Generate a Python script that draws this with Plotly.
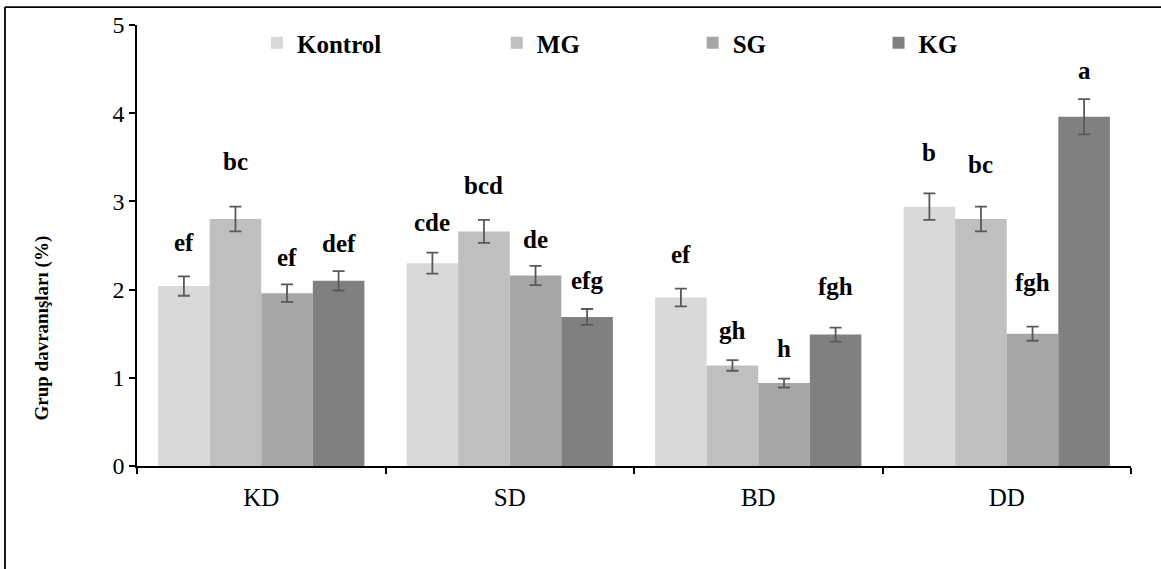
import plotly.graph_objects as go

categories = ["KD", "SD", "BD", "DD"]
series_names = ["Kontrol", "MG", "SG", "KG"]
colors = ["#d9d9d9", "#bfbfbf", "#a6a6a6", "#808080"]

kontrol = [2.04, 2.30, 1.91, 2.94]
mg = [2.80, 2.66, 1.14, 2.80]
sg = [1.96, 2.16, 0.94, 1.50]
kg = [2.10, 1.69, 1.49, 3.96]

kontrol_err = [0.11, 0.12, 0.10, 0.15]
mg_err = [0.14, 0.13, 0.06, 0.14]
sg_err = [0.10, 0.11, 0.05, 0.08]
kg_err = [0.11, 0.09, 0.08, 0.20]

kontrol_letters = ["ef", "cde", "ef", "b"]
mg_letters = ["bc", "bcd", "gh", "bc"]
sg_letters = ["ef", "de", "h", "fgh"]
kg_letters = ["def", "efg", "fgh", "a"]

# gap between top of error bar and centre of letter label (data units)
kontrol_gap = [0.38, 0.34, 0.39, 0.47]
mg_gap = [0.51, 0.385, 0.335, 0.475]
sg_gap = [0.30, 0.30, 0.34, 0.50]
kg_gap = [0.31, 0.32, 0.465, 0.32]

values = [kontrol, mg, sg, kg]
errors = [kontrol_err, mg_err, sg_err, kg_err]
letters = [kontrol_letters, mg_letters, sg_letters, kg_letters]
gaps = [kontrol_gap, mg_gap, sg_gap, kg_gap]

FONT = "Liberation Serif"
BARGAP = 0.17
legend_ids = ["legend", "legend2", "legend3", "legend4"]
legend_x = [0.1207, 0.362, 0.559, 0.746]

fig = go.Figure()
for j, name in enumerate(series_names):
    fig.add_trace(go.Bar(
        x=categories, y=values[j], name=name,
        marker=dict(color=colors[j], line=dict(width=0)),
        error_y=dict(type="data", array=errors[j], visible=True,
                     color="#595959", thickness=1.8, width=6),
        legend=legend_ids[j],
    ))

bw = (1 - BARGAP) / len(series_names)
annotations = []
for j in range(len(series_names)):
    for i in range(len(categories)):
        annotations.append(dict(
            x=i + (j - 1.5) * bw, y=values[j][i] + errors[j][i] + gaps[j][i],
            xref="x", yref="y", text="<b>%s</b>" % letters[j][i],
            showarrow=False, yanchor="middle", xanchor="center",
            font=dict(family=FONT, size=25, color="black"),
        ))
annotations.append(dict(
    x=-0.0956, y=0.314, xref="paper", yref="paper",
    text="<b>Grup davranışları (%)</b>", textangle=-90, showarrow=False,
    xanchor="center", yanchor="middle",
    font=dict(family=FONT, size=19, color="black"),
))

layout_legends = {}
for k, lid in enumerate(legend_ids):
    layout_legends[lid] = dict(
        x=legend_x[k], y=0.959, xanchor="left", yanchor="middle",
        orientation="h", bgcolor="rgba(0,0,0,0)",
        font=dict(family=FONT, size=25, color="black", weight="bold"),
    )

fig.update_layout(
    width=1161, height=569,
    margin=dict(l=137, r=30, t=23, b=103),
    paper_bgcolor="white", plot_bgcolor="white",
    barmode="group", bargap=BARGAP, bargroupgap=0,
    showlegend=True,
    font=dict(family=FONT, color="black"),
    annotations=annotations,
    shapes=[
        dict(type="line", xref="paper", yref="paper",
             x0=-0.1328, x1=-0.1328, y0=1.0406, y1=-0.25,
             line=dict(color="black", width=1.8)),
        dict(type="line", xref="paper", yref="paper",
             x0=-0.1328, x1=1.05, y0=1.0406, y1=1.0406,
             line=dict(color="black", width=1.8)),
    ],
    xaxis=dict(
        showline=True, linecolor="black", linewidth=2,
        ticks="outside", tickson="boundaries", ticklen=6, tickwidth=1.5,
        tickcolor="black", showgrid=False, zeroline=False,
        tickfont=dict(family=FONT, size=25, color="black"),
        ticklabelstandoff=8,
    ),
    yaxis=dict(
        range=[0, 5], dtick=1, showline=True, linecolor="black", linewidth=1.5,
        ticks="outside", ticklen=6, tickwidth=1.5, tickcolor="black",
        showgrid=False, zeroline=False,
        tickfont=dict(family=FONT, size=24, color="black"),
    ),
    **layout_legends,
)

fig.write_html(
    "out.html",
    config={"displayModeBar": False},
    post_script="document.body.style.margin='0';document.body.style.overflow='hidden';",
)
